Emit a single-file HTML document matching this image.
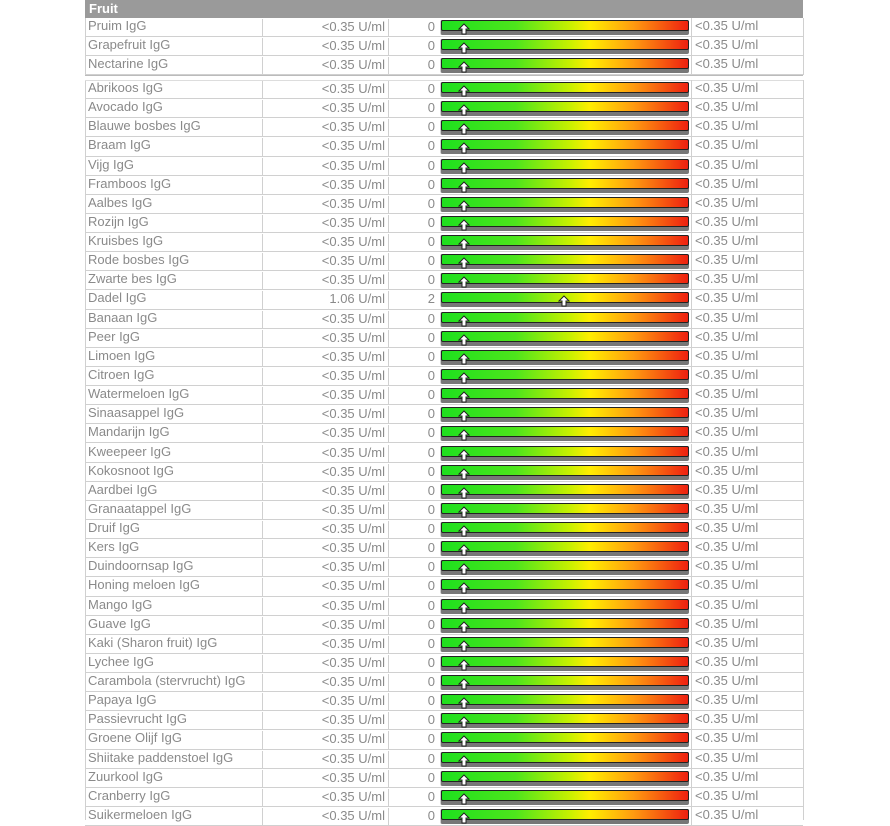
<!DOCTYPE html>
<html><head><meta charset="utf-8">
<style>
body{margin:0;width:890px;height:820px;background:#fff;position:relative;overflow:hidden;font-family:"Liberation Sans",sans-serif;}
.hd{position:absolute;left:85px;top:0;width:718px;height:18px;background:#9a9a9a;color:#fff;font-size:13px;font-weight:bold;line-height:17px;}
.hd span{padding-left:4px}
.r{position:absolute;left:85px;width:718px;height:18.13px;border-bottom:1px solid #d0d0d0;color:#8a8a8a;font-size:13px;}
.r div{position:absolute;top:0;height:100%;line-height:15px;}
.n{left:3px}
.v{left:177px;width:122px;text-align:right;border-left:1px solid #d0d0d0;border-right:1px solid #d0d0d0;height:100%;padding-right:3px;top:1px!important}
.s{left:303px;width:47px;text-align:right;top:1px!important}
.b{left:355px;width:248px;top:2px!important;height:15px!important;background:#777;border-radius:2px;border-left:1px solid #d0d0d0}
.b i{position:absolute;left:0;top:0;width:246px;height:9px;border:1px solid #222;border-radius:2px;background:linear-gradient(to right,#1ee01e 0%,#4ee51c 30%,#c8f000 52%,#ffee00 60%,#ff9a10 78%,#ee2010 100%);}
.b svg{position:absolute;top:3px}
.t{left:606px;border-left:1px solid #d0d0d0;padding-left:3px;height:100%}
.L{position:absolute;left:85px;width:1px;background:#d0d0d0}
.R{position:absolute;left:803px;width:1px;background:#d0d0d0}
</style></head><body>
<div class="hd"><span>Fruit</span></div>
<div class="L" style="top:18px;height:57px"></div><div class="R" style="top:18px;height:57px"></div>
<div class="L" style="top:80px;height:740px"></div><div class="R" style="top:80px;height:740px"></div>
<div style="position:absolute;left:85px;top:75px;width:718px;height:4px;border-top:1px solid #bbb;border-bottom:1px solid #ddd"></div>
<svg width="0" height="0" style="position:absolute"><defs><symbol id="a" viewBox="0 0 12 12"><path d="M6 1 L11 6 L8 6 L8 11 L4 11 L4 6 L1 6 Z" fill="#fff" stroke="#222" stroke-width="1"/></symbol></defs></svg>

<div class="r" style="top:18px;height:18px"><div class="n">Pruim IgG</div><div class="v">&lt;0.35 U/ml</div><div class="s">0</div><div class="b"><i></i><svg width="12" height="12" style="left:17px"><use href="#a"/></svg></div><div class="t">&lt;0.35 U/ml</div></div>
<div class="r" style="top:37px;height:18px"><div class="n">Grapefruit IgG</div><div class="v">&lt;0.35 U/ml</div><div class="s">0</div><div class="b"><i></i><svg width="12" height="12" style="left:17px"><use href="#a"/></svg></div><div class="t">&lt;0.35 U/ml</div></div>
<div class="r" style="top:56px;height:18px"><div class="n">Nectarine IgG</div><div class="v">&lt;0.35 U/ml</div><div class="s">0</div><div class="b"><i></i><svg width="12" height="12" style="left:17px"><use href="#a"/></svg></div><div class="t">&lt;0.35 U/ml</div></div>

<div class="r" style="top:80px"><div class="n">Abrikoos IgG</div><div class="v">&lt;0.35 U/ml</div><div class="s">0</div><div class="b"><i></i><svg width="12" height="12" style="left:17px"><use href="#a"/></svg></div><div class="t">&lt;0.35 U/ml</div></div>
<div class="r" style="top:99.1px"><div class="n">Avocado IgG</div><div class="v">&lt;0.35 U/ml</div><div class="s">0</div><div class="b"><i></i><svg width="12" height="12" style="left:17px"><use href="#a"/></svg></div><div class="t">&lt;0.35 U/ml</div></div>
<div class="r" style="top:118.3px"><div class="n">Blauwe bosbes IgG</div><div class="v">&lt;0.35 U/ml</div><div class="s">0</div><div class="b"><i></i><svg width="12" height="12" style="left:17px"><use href="#a"/></svg></div><div class="t">&lt;0.35 U/ml</div></div>
<div class="r" style="top:137.4px"><div class="n">Braam IgG</div><div class="v">&lt;0.35 U/ml</div><div class="s">0</div><div class="b"><i></i><svg width="12" height="12" style="left:17px"><use href="#a"/></svg></div><div class="t">&lt;0.35 U/ml</div></div>
<div class="r" style="top:156.5px"><div class="n">Vijg IgG</div><div class="v">&lt;0.35 U/ml</div><div class="s">0</div><div class="b"><i></i><svg width="12" height="12" style="left:17px"><use href="#a"/></svg></div><div class="t">&lt;0.35 U/ml</div></div>
<div class="r" style="top:175.7px"><div class="n">Framboos IgG</div><div class="v">&lt;0.35 U/ml</div><div class="s">0</div><div class="b"><i></i><svg width="12" height="12" style="left:17px"><use href="#a"/></svg></div><div class="t">&lt;0.35 U/ml</div></div>
<div class="r" style="top:194.8px"><div class="n">Aalbes IgG</div><div class="v">&lt;0.35 U/ml</div><div class="s">0</div><div class="b"><i></i><svg width="12" height="12" style="left:17px"><use href="#a"/></svg></div><div class="t">&lt;0.35 U/ml</div></div>
<div class="r" style="top:213.9px"><div class="n">Rozijn IgG</div><div class="v">&lt;0.35 U/ml</div><div class="s">0</div><div class="b"><i></i><svg width="12" height="12" style="left:17px"><use href="#a"/></svg></div><div class="t">&lt;0.35 U/ml</div></div>
<div class="r" style="top:233px"><div class="n">Kruisbes IgG</div><div class="v">&lt;0.35 U/ml</div><div class="s">0</div><div class="b"><i></i><svg width="12" height="12" style="left:17px"><use href="#a"/></svg></div><div class="t">&lt;0.35 U/ml</div></div>
<div class="r" style="top:252.2px"><div class="n">Rode bosbes IgG</div><div class="v">&lt;0.35 U/ml</div><div class="s">0</div><div class="b"><i></i><svg width="12" height="12" style="left:17px"><use href="#a"/></svg></div><div class="t">&lt;0.35 U/ml</div></div>
<div class="r" style="top:271.3px"><div class="n">Zwarte bes IgG</div><div class="v">&lt;0.35 U/ml</div><div class="s">0</div><div class="b"><i></i><svg width="12" height="12" style="left:17px"><use href="#a"/></svg></div><div class="t">&lt;0.35 U/ml</div></div>
<div class="r" style="top:290.4px"><div class="n">Dadel IgG</div><div class="v">1.06 U/ml</div><div class="s">2</div><div class="b"><i></i><svg width="12" height="12" style="left:117px"><use href="#a"/></svg></div><div class="t">&lt;0.35 U/ml</div></div>
<div class="r" style="top:309.6px"><div class="n">Banaan IgG</div><div class="v">&lt;0.35 U/ml</div><div class="s">0</div><div class="b"><i></i><svg width="12" height="12" style="left:17px"><use href="#a"/></svg></div><div class="t">&lt;0.35 U/ml</div></div>
<div class="r" style="top:328.7px"><div class="n">Peer IgG</div><div class="v">&lt;0.35 U/ml</div><div class="s">0</div><div class="b"><i></i><svg width="12" height="12" style="left:17px"><use href="#a"/></svg></div><div class="t">&lt;0.35 U/ml</div></div>
<div class="r" style="top:347.8px"><div class="n">Limoen IgG</div><div class="v">&lt;0.35 U/ml</div><div class="s">0</div><div class="b"><i></i><svg width="12" height="12" style="left:17px"><use href="#a"/></svg></div><div class="t">&lt;0.35 U/ml</div></div>
<div class="r" style="top:367px"><div class="n">Citroen IgG</div><div class="v">&lt;0.35 U/ml</div><div class="s">0</div><div class="b"><i></i><svg width="12" height="12" style="left:17px"><use href="#a"/></svg></div><div class="t">&lt;0.35 U/ml</div></div>
<div class="r" style="top:386.1px"><div class="n">Watermeloen IgG</div><div class="v">&lt;0.35 U/ml</div><div class="s">0</div><div class="b"><i></i><svg width="12" height="12" style="left:17px"><use href="#a"/></svg></div><div class="t">&lt;0.35 U/ml</div></div>
<div class="r" style="top:405.2px"><div class="n">Sinaasappel IgG</div><div class="v">&lt;0.35 U/ml</div><div class="s">0</div><div class="b"><i></i><svg width="12" height="12" style="left:17px"><use href="#a"/></svg></div><div class="t">&lt;0.35 U/ml</div></div>
<div class="r" style="top:424.3px"><div class="n">Mandarijn IgG</div><div class="v">&lt;0.35 U/ml</div><div class="s">0</div><div class="b"><i></i><svg width="12" height="12" style="left:17px"><use href="#a"/></svg></div><div class="t">&lt;0.35 U/ml</div></div>
<div class="r" style="top:443.5px"><div class="n">Kweepeer IgG</div><div class="v">&lt;0.35 U/ml</div><div class="s">0</div><div class="b"><i></i><svg width="12" height="12" style="left:17px"><use href="#a"/></svg></div><div class="t">&lt;0.35 U/ml</div></div>
<div class="r" style="top:462.6px"><div class="n">Kokosnoot IgG</div><div class="v">&lt;0.35 U/ml</div><div class="s">0</div><div class="b"><i></i><svg width="12" height="12" style="left:17px"><use href="#a"/></svg></div><div class="t">&lt;0.35 U/ml</div></div>
<div class="r" style="top:481.7px"><div class="n">Aardbei IgG</div><div class="v">&lt;0.35 U/ml</div><div class="s">0</div><div class="b"><i></i><svg width="12" height="12" style="left:17px"><use href="#a"/></svg></div><div class="t">&lt;0.35 U/ml</div></div>
<div class="r" style="top:500.9px"><div class="n">Granaatappel IgG</div><div class="v">&lt;0.35 U/ml</div><div class="s">0</div><div class="b"><i></i><svg width="12" height="12" style="left:17px"><use href="#a"/></svg></div><div class="t">&lt;0.35 U/ml</div></div>
<div class="r" style="top:520px"><div class="n">Druif IgG</div><div class="v">&lt;0.35 U/ml</div><div class="s">0</div><div class="b"><i></i><svg width="12" height="12" style="left:17px"><use href="#a"/></svg></div><div class="t">&lt;0.35 U/ml</div></div>
<div class="r" style="top:539.1px"><div class="n">Kers IgG</div><div class="v">&lt;0.35 U/ml</div><div class="s">0</div><div class="b"><i></i><svg width="12" height="12" style="left:17px"><use href="#a"/></svg></div><div class="t">&lt;0.35 U/ml</div></div>
<div class="r" style="top:558.3px"><div class="n">Duindoornsap IgG</div><div class="v">&lt;0.35 U/ml</div><div class="s">0</div><div class="b"><i></i><svg width="12" height="12" style="left:17px"><use href="#a"/></svg></div><div class="t">&lt;0.35 U/ml</div></div>
<div class="r" style="top:577.4px"><div class="n">Honing meloen IgG</div><div class="v">&lt;0.35 U/ml</div><div class="s">0</div><div class="b"><i></i><svg width="12" height="12" style="left:17px"><use href="#a"/></svg></div><div class="t">&lt;0.35 U/ml</div></div>
<div class="r" style="top:596.5px"><div class="n">Mango IgG</div><div class="v">&lt;0.35 U/ml</div><div class="s">0</div><div class="b"><i></i><svg width="12" height="12" style="left:17px"><use href="#a"/></svg></div><div class="t">&lt;0.35 U/ml</div></div>
<div class="r" style="top:615.6px"><div class="n">Guave IgG</div><div class="v">&lt;0.35 U/ml</div><div class="s">0</div><div class="b"><i></i><svg width="12" height="12" style="left:17px"><use href="#a"/></svg></div><div class="t">&lt;0.35 U/ml</div></div>
<div class="r" style="top:634.8px"><div class="n">Kaki (Sharon fruit) IgG</div><div class="v">&lt;0.35 U/ml</div><div class="s">0</div><div class="b"><i></i><svg width="12" height="12" style="left:17px"><use href="#a"/></svg></div><div class="t">&lt;0.35 U/ml</div></div>
<div class="r" style="top:653.9px"><div class="n">Lychee IgG</div><div class="v">&lt;0.35 U/ml</div><div class="s">0</div><div class="b"><i></i><svg width="12" height="12" style="left:17px"><use href="#a"/></svg></div><div class="t">&lt;0.35 U/ml</div></div>
<div class="r" style="top:673px"><div class="n">Carambola (stervrucht) IgG</div><div class="v">&lt;0.35 U/ml</div><div class="s">0</div><div class="b"><i></i><svg width="12" height="12" style="left:17px"><use href="#a"/></svg></div><div class="t">&lt;0.35 U/ml</div></div>
<div class="r" style="top:692.2px"><div class="n">Papaya IgG</div><div class="v">&lt;0.35 U/ml</div><div class="s">0</div><div class="b"><i></i><svg width="12" height="12" style="left:17px"><use href="#a"/></svg></div><div class="t">&lt;0.35 U/ml</div></div>
<div class="r" style="top:711.3px"><div class="n">Passievrucht IgG</div><div class="v">&lt;0.35 U/ml</div><div class="s">0</div><div class="b"><i></i><svg width="12" height="12" style="left:17px"><use href="#a"/></svg></div><div class="t">&lt;0.35 U/ml</div></div>
<div class="r" style="top:730.4px"><div class="n">Groene Olijf IgG</div><div class="v">&lt;0.35 U/ml</div><div class="s">0</div><div class="b"><i></i><svg width="12" height="12" style="left:17px"><use href="#a"/></svg></div><div class="t">&lt;0.35 U/ml</div></div>
<div class="r" style="top:749.6px"><div class="n">Shiitake paddenstoel IgG</div><div class="v">&lt;0.35 U/ml</div><div class="s">0</div><div class="b"><i></i><svg width="12" height="12" style="left:17px"><use href="#a"/></svg></div><div class="t">&lt;0.35 U/ml</div></div>
<div class="r" style="top:768.7px"><div class="n">Zuurkool IgG</div><div class="v">&lt;0.35 U/ml</div><div class="s">0</div><div class="b"><i></i><svg width="12" height="12" style="left:17px"><use href="#a"/></svg></div><div class="t">&lt;0.35 U/ml</div></div>
<div class="r" style="top:787.8px"><div class="n">Cranberry IgG</div><div class="v">&lt;0.35 U/ml</div><div class="s">0</div><div class="b"><i></i><svg width="12" height="12" style="left:17px"><use href="#a"/></svg></div><div class="t">&lt;0.35 U/ml</div></div>
<div class="r" style="top:806.9px"><div class="n">Suikermeloen IgG</div><div class="v">&lt;0.35 U/ml</div><div class="s">0</div><div class="b"><i></i><svg width="12" height="12" style="left:17px"><use href="#a"/></svg></div><div class="t">&lt;0.35 U/ml</div></div>
</body></html>
